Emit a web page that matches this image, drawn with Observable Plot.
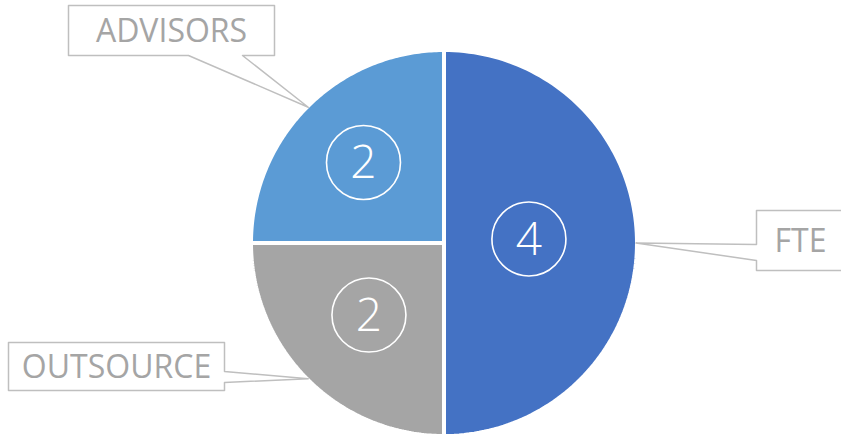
<!DOCTYPE html>
<html>
<head>
<meta charset="utf-8">
<script src="https://cdn.jsdelivr.net/npm/d3@7"></script>
<script src="https://cdn.jsdelivr.net/npm/@observablehq/plot@0.6"></script>
<style>
  html, body { margin: 0; padding: 0; background: #fff; }
  #chart svg { display: block; }
</style>
</head>
<body>
<div id="chart"></div>
<script>
// ---- data ----
const categories = ["FTE", "OUTSOURCE", "ADVISORS"];
const values = [4, 2, 2];
const colors = ["#4472C4", "#A5A5A5", "#5B9BD5"];

// ---- layout (not data) ----
const W = 841, H = 436;
const cx = 443.5, cy = 242.5, R = 193;
// value-circle placement as a fraction of radius along each slice's mid angle, plus a vertical nudge
const valueRadius = {FTE: 0.44, OUTSOURCE: 0.55, ADVISORS: 0.59};
const valueDy = {FTE: -4, OUTSOURCE: -3, ADVISORS: 0};
// callout boxes: x, y, w, h, side the tail leaves from, and the two tail base offsets
const callout = {
  ADVISORS:  {x: 68,  y: 5,   w: 206, h: 50, side: "bottom", t0: 120, t1: 174},
  FTE:       {x: 756, y: 210, w: 92,  h: 60, side: "left",   t0: 34,  t1: 50},
  OUTSOURCE: {x: 8,   y: 342, w: 216, h: 48, side: "right",  t0: 29,  t1: 40}
};

const rows = categories.map((c, i) => ({name: c, value: values[i]}));
const pie = d3.pie().sort(null).value(d => d.value)(rows);

// slice polygons (angles measured clockwise from 12 o'clock)
const pt = (a, r) => ({x: cx + r * Math.sin(a), y: cy - r * Math.cos(a)});
const slicePts = [];
for (const p of pie) {
  slicePts.push({name: p.data.name, ...pt(0, 0)});
  const n = 120;
  for (let k = 0; k <= n; k++) {
    const a = p.startAngle + (p.endAngle - p.startAngle) * k / n;
    slicePts.push({name: p.data.name, ...pt(a, R)});
  }
}

const valueLabels = pie.map(p => {
  const m = (p.startAngle + p.endAngle) / 2;
  const q = pt(m, R * valueRadius[p.data.name]);
  return {name: p.data.name, value: p.data.value, x: q.x, y: q.y + valueDy[p.data.name]};
});

// callout shapes with tails pointing to the slice edge
const calloutPts = [];
const calloutText = [];
for (const p of pie) {
  const name = p.data.name;
  const b = callout[name];
  const m = (p.startAngle + p.endAngle) / 2;
  const tip = pt(m, R - 1);
  let poly;
  const x0 = b.x, y0 = b.y, x1 = b.x + b.w, y1 = b.y + b.h;
  if (b.side === "bottom") {
    poly = [[x0, y0], [x1, y0], [x1, y1], [x0 + b.t1, y1], [tip.x, tip.y], [x0 + b.t0, y1], [x0, y1]];
  } else if (b.side === "left") {
    poly = [[x0, y0], [x1, y0], [x1, y1], [x0, y1], [x0, y0 + b.t1], [tip.x, tip.y], [x0, y0 + b.t0]];
  } else {
    poly = [[x0, y0], [x1, y0], [x1, y0 + b.t0], [tip.x, tip.y], [x1, y0 + b.t1], [x1, y1], [x0, y1]];
  }
  for (const [x, y] of poly) calloutPts.push({name, x, y});
  calloutText.push({name, x: (x0 + x1) / 2 + (b.side === "left" ? -2 : 0), y: (y0 + y1) / 2});
}

const chart = Plot.plot({
  width: W,
  height: H,
  margin: 0,
  style: {background: "#fff", overflow: "visible"},
  x: {domain: [0, W], range: [0, W], axis: null},
  y: {domain: [0, H], range: [0, H], axis: null},
  color: {domain: categories, range: colors},
  marks: [
    Plot.line(slicePts, {x: "x", y: "y", z: "name", fill: "name", stroke: "white", strokeWidth: 4, strokeLinejoin: "miter", curve: "linear-closed"}),
    Plot.dot(valueLabels, {x: "x", y: "y", r: 37, stroke: "white", strokeWidth: 1.6, fill: "none"}),
    Plot.text(valueLabels, {x: "x", y: "y", text: d => String(d.value), fill: "white", fontSize: 46, fontWeight: 300, fontFamily: "Open Sans", lineAnchor: "middle", dy: 1}),
    Plot.line(calloutPts, {x: "x", y: "y", z: "name", fill: "white", stroke: "#BFBFBF", strokeWidth: 1.5, curve: "linear-closed"}),
    Plot.text(calloutText, {x: "x", y: "y", text: "name", fill: "#A5A5A5", fontSize: 32, fontFamily: "Open Sans", lineAnchor: "middle", dy: 1})
  ]
});
document.getElementById("chart").appendChild(chart);
</script>
</body>
</html>
